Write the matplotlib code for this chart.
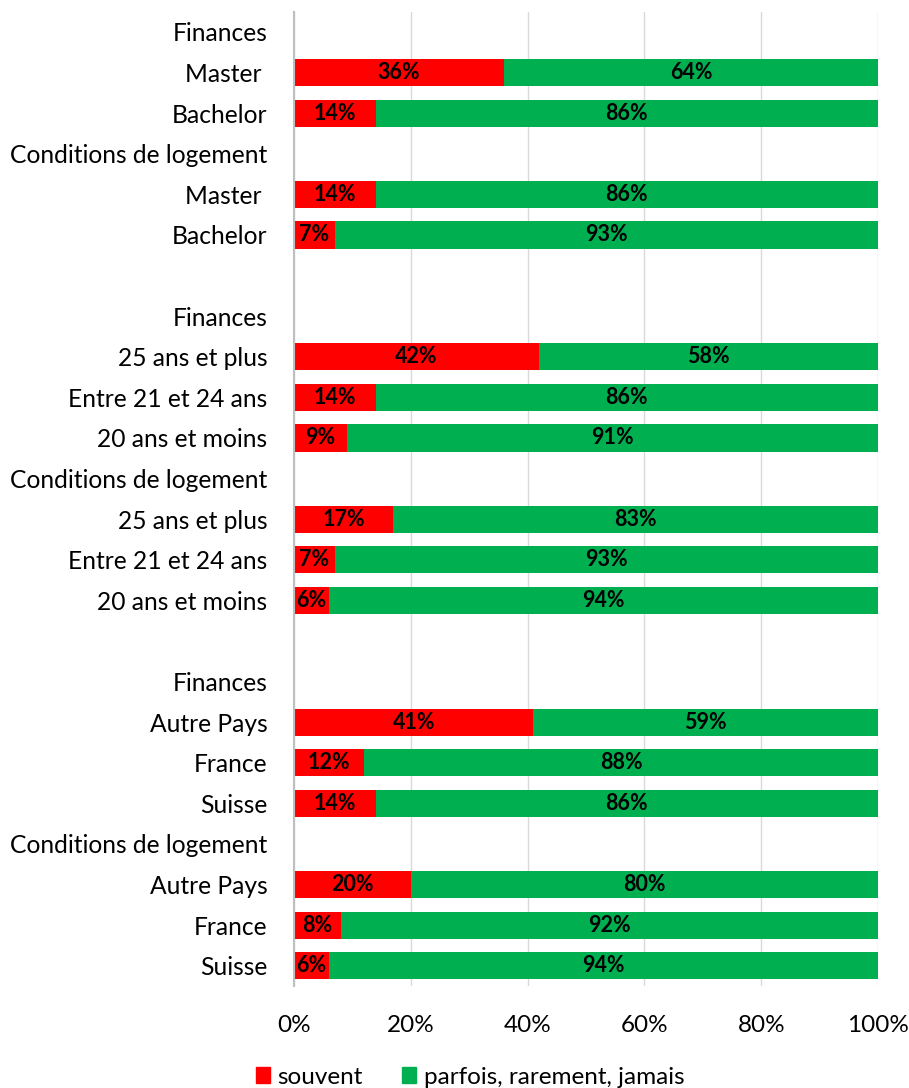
import matplotlib
matplotlib.use("Agg")
import matplotlib.pyplot as plt
from matplotlib.patches import Patch

plt.rcParams["font.family"] = ["Lato", "DejaVu Sans"]

# Rows from top to bottom; headers and spacers have no bar (None)
categories = [
    "Finances", "Master ", "Bachelor", "Conditions de logement", "Master ", "Bachelor",
    "",
    "Finances", "25 ans et plus", "Entre 21 et 24 ans", "20 ans et moins",
    "Conditions de logement", "25 ans et plus", "Entre 21 et 24 ans", "20 ans et moins",
    "",
    "Finances", "Autre Pays", "France", "Suisse",
    "Conditions de logement", "Autre Pays", "France", "Suisse",
]
souvent = [None, 36, 14, None, 14, 7,
           None,
           None, 42, 14, 9, None, 17, 7, 6,
           None,
           None, 41, 12, 14, None, 20, 8, 6]
parfois = [None, 64, 86, None, 86, 93,
           None,
           None, 58, 86, 91, None, 83, 93, 94,
           None,
           None, 59, 88, 86, None, 80, 92, 94]

RED = "#FF0000"
GREEN = "#00B050"

fig = plt.figure(figsize=(9.09, 10.88), dpi=100)
ax = fig.add_axes([294 / 909, 1 - 986 / 1088, (878 - 294) / 909, (986 - 11.7) / 1088])

n = len(categories)
ys = list(range(n))
h = 0.67
for y, s, p in zip(ys, souvent, parfois):
    if s is None:
        continue
    ax.barh(y, s, height=h, color=RED, edgecolor="none", zorder=2)
    ax.barh(y, p, left=s, height=h, color=GREEN, edgecolor="none", zorder=2)
    ax.text(s / 2, y, f"{s}%", ha="center", va="center", fontsize=15.5,
            fontweight="bold", color="black", zorder=3)
    ax.text(s + p / 2, y, f"{p}%", ha="center", va="center", fontsize=15.5,
            fontweight="bold", color="black", zorder=3)

ax.set_ylim(n - 0.5, -0.5)
ax.set_xlim(0, 100)
ax.set_yticks(ys)
ax.set_yticklabels(categories, fontsize=17.7)
ax.set_xticks([0, 20, 40, 60, 80, 100])
ax.set_xticklabels(["0%", "20%", "40%", "60%", "80%", "100%"], fontsize=17.5)
ax.tick_params(axis="both", length=0)
ax.tick_params(axis="y", pad=19)
ax.tick_params(axis="x", pad=21)
ax.grid(axis="x", color="#D9D9D9", linewidth=1, zorder=0)
ax.set_axisbelow(True)
for side in ["top", "right", "bottom"]:
    ax.spines[side].set_visible(False)
ax.spines["left"].set_color("#BFBFBF")
ax.spines["left"].set_linewidth(1.5)
ax.spines["left"].set_zorder(4)

handles = [Patch(color=RED, label="souvent"), Patch(color=GREEN, label="parfois, rarement, jamais")]
fig.legend(handles=handles, loc="center", bbox_to_anchor=(470 / 909, 1 - 1077 / 1088),
           ncol=2, frameon=False, fontsize=17.5, handlelength=0.6, handleheight=0.6,
           handletextpad=0.3, columnspacing=1.6, borderpad=0)

fig.savefig("out.png", dpi=100)
